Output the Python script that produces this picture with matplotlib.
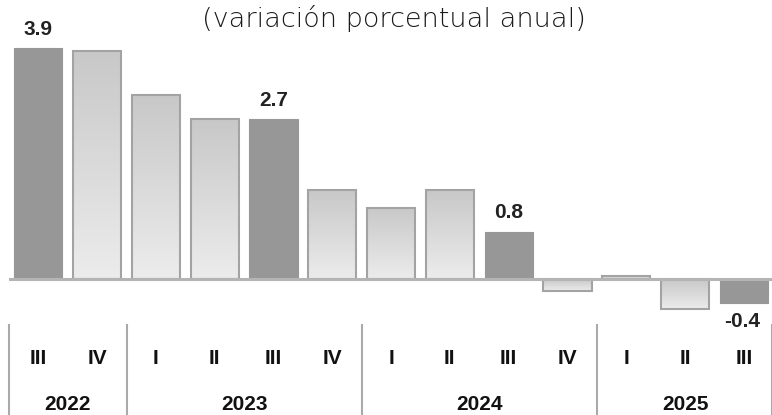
import numpy as np
import matplotlib
matplotlib.use('Agg')
import matplotlib.pyplot as plt
import matplotlib.transforms as mtransforms

plt.rcParams['font.family'] = ['Liberation Sans', 'DejaVu Sans']

quarters = ['III', 'IV', 'I', 'II', 'III', 'IV', 'I', 'II', 'III', 'IV', 'I', 'II', 'III']
years = ['2022', '2023', '2024', '2025']
year_quarters = [2, 4, 4, 3]
values = [3.9, 3.85, 3.1, 2.7, 2.7, 1.5, 1.2, 1.5, 0.8, -0.2, 0.05, -0.5, -0.4]
highlight = [True, False, False, False, True, False, False, False, True, False, False, False, True]
labels = ['3.9', '', '', '', '2.7', '', '', '', '0.8', '', '', '', '-0.4']

W, H = 772, 415
fig = plt.figure(figsize=(W / 100, H / 100), dpi=100)

# axes placed in pixel terms: zero line at y=279, ~59.2 px per point
top_px, bot_px, zero_px, ppu = 20, 320, 279, 59.2
ax = fig.add_axes([9 / W, 1 - bot_px / H, (772 - 9) / W, (bot_px - top_px) / H])
ax.set_xlim(-0.5, 12.48)
ax.set_ylim(-(bot_px - zero_px) / ppu, (zero_px - top_px) / ppu)
ax.axis('off')

x = np.arange(len(values))
width = 0.82
grad = np.linspace(0, 1, 256).reshape(-1, 1)
cmap = matplotlib.colors.LinearSegmentedColormap.from_list('g', ['#ececec', '#c8c8c8'])

for xi, v, hl in zip(x, values, highlight):
    if hl:
        ax.bar(xi, v, width, color='#979797', edgecolor='#979797', linewidth=0.8, zorder=2)
    else:
        b = ax.bar(xi, v, width, color='none', edgecolor='#a3a3a3', linewidth=1.5, zorder=3)[0]
        lo, hi = min(0, v), max(0, v)
        im = ax.imshow(grad, extent=[xi - width / 2, xi + width / 2, lo, hi], origin='lower',
                       cmap=cmap, aspect='auto', zorder=2)
        im.set_clip_path(b)

ax.axhline(0, color='#b4b4b4', linewidth=2.2, zorder=4)

for xi, v, lab in zip(x, values, labels):
    if not lab:
        continue
    if v >= 0:
        ax.text(xi, v + 0.16, lab, ha='center', va='bottom', fontsize=15, fontweight='bold', color='#222222')
    else:
        ax.text(xi - 0.02, -0.72, lab, ha='center', va='center', fontsize=15, fontweight='bold',
                color='#222222', clip_on=False)

fig.text(0.51, 1 - 18 / H, '(variación porcentual anual)', ha='center', va='center',
         fontsize=19.5, fontfamily='DejaVu Sans', fontweight='light', color='#1a1a1a')

tr = mtransforms.blended_transform_factory(ax.transData, fig.transFigure)
for xi, q in zip(x, quarters):
    ax.text(xi, 1 - 358 / H, q, transform=tr, ha='center', va='center', fontsize=15,
            fontweight='bold', color='#111111', clip_on=False)

start = 0
for yr, n in zip(years, year_quarters):
    ax.text(start + (n - 1) / 2, 1 - 404 / H, yr, transform=tr, ha='center', va='center',
            fontsize=15, fontweight='bold', color='#111111', clip_on=False)
    ax.plot([start - 0.5, start - 0.5], [0, 1 - 325 / H], transform=tr, color='#aaaaaa',
            linewidth=1.5, clip_on=False)
    start += n
ax.plot([start - 0.52, start - 0.52], [0, 1 - 325 / H], transform=tr, color='#aaaaaa',
        linewidth=1.5, clip_on=False)

fig.savefig('out.png', dpi=100)
